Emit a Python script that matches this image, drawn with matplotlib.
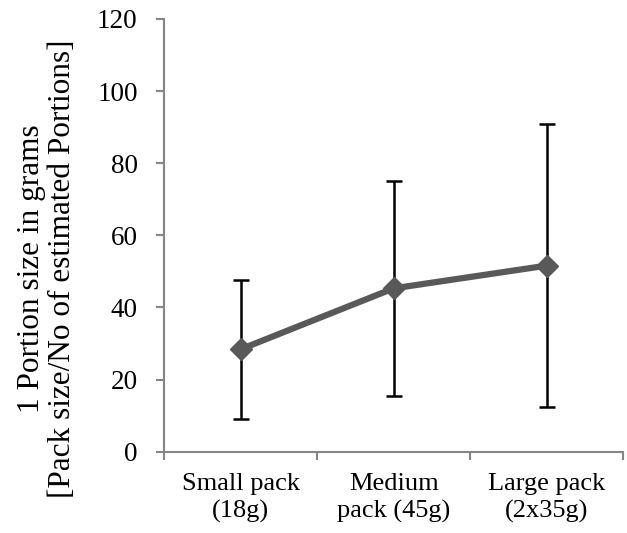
import matplotlib
matplotlib.use("Agg")
import matplotlib.pyplot as plt
import numpy as np

categories = ["Small pack\n(18g)", "Medium\npack (45g)", "Large pack\n(2x35g)"]
means = [28.4, 45.3, 51.6]
err_low = [9.2, 15.4, 12.3]
err_high = [47.6, 75.2, 91.0]
y_ticks = [0, 20, 40, 60, 80, 100, 120]

plt.rcParams['font.family'] = ['Liberation Serif', 'DejaVu Serif']

fig = plt.figure(figsize=(6.27, 5.33), dpi=100)
ax = fig.add_axes([0.2616, 0.1525, 0.994 - 0.2616, 0.9644 - 0.1525])

x = np.arange(len(categories))
m = np.array(means)
lo = m - np.array(err_low)
hi = np.array(err_high) - m

ax.errorbar(x, m, yerr=[lo, hi], fmt='none', ecolor='black', elinewidth=1.8,
            capsize=6, capthick=1.8, zorder=2)
ax.plot(x, m, color='#595959', linewidth=4.5, marker='D', markersize=11,
        markeredgecolor='#595959', markerfacecolor='#595959', zorder=3)

ax.set_xlim(-0.5, 2.5)
ax.set_ylim(0, 120)
ax.set_yticks(y_ticks)
ax.set_yticklabels([str(v) for v in y_ticks], fontsize=19.5)

ax.set_xticks([-0.5, 0.5, 1.5, 2.5])
ax.set_xticklabels([])
ax.set_xticks(x, minor=True)
ax.set_xticklabels(categories, minor=True, fontsize=19, linespacing=1.3)
ax.tick_params(axis='x', which='minor', length=0, pad=15)
ax.tick_params(axis='x', which='major', length=6, width=1.5, color='#868686', direction='out')
ax.tick_params(axis='y', length=6, width=1.5, color='#868686', direction='out', pad=13)

for s in ['top', 'right']:
    ax.spines[s].set_visible(False)
for s in ['left', 'bottom']:
    ax.spines[s].set_color('#868686')
    ax.spines[s].set_linewidth(1.5)

fig.text(47 / 627, 1 - 269 / 533,
         "1 Portion size in grams\n[Pack size/No of estimated Portions]",
         rotation=90, ha='center', va='center', fontsize=22.5, linespacing=1.1)

fig.savefig("out.png", dpi=100)
